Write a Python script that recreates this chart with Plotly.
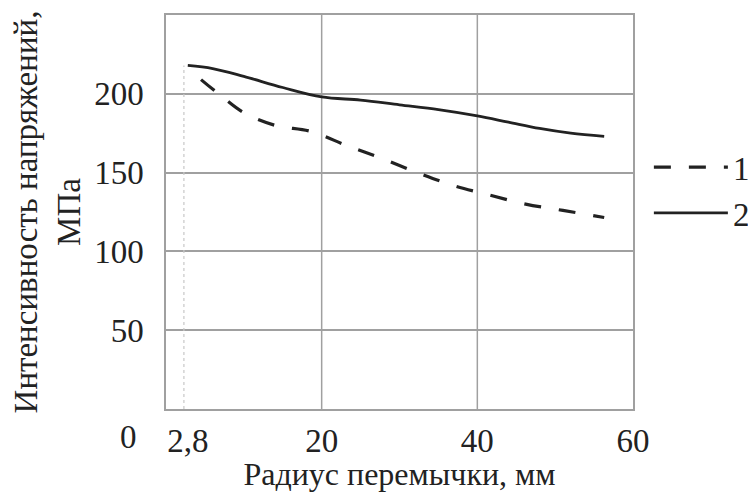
import plotly.graph_objects as go

# Data
radius_1 = [4.5, 7, 10, 14, 18.7, 23.3, 27.7, 32.3, 36.8, 41.4, 46.2, 51, 56.3]
stress_1 = [209, 199, 188, 180, 176, 167, 159, 150, 142, 136, 130, 126, 121.5]
radius_2 = [2.8, 6, 10, 15, 20, 25, 30, 35, 40, 44, 48, 52, 56.3]
stress_2 = [218, 216, 211, 204, 198, 196, 193, 190, 186, 182, 178, 175, 173]
x_tickvals = [2.8, 20, 40, 60]
x_ticktext = ["2,8", "20", "40", "60"]
x_grid = [20, 40]
y_tickvals = [50, 100, 150, 200]
series_names = ["1", "2"]

FONT = "Liberation Serif"
GRID = "#a0a0a0"
FS = 33

fig = go.Figure()
fig.add_trace(go.Scatter(
    x=[radius_2[0] - 0.5, radius_2[0] - 0.5], y=[0, stress_2[0]], mode="lines",
    line=dict(color="#c8c8c8", width=1.2, dash="dot"), showlegend=False, hoverinfo="skip"))
fig.add_trace(go.Scatter(
    x=radius_1, y=stress_1, mode="lines", name=series_names[0],
    line=dict(color="#222222", width=3.2, dash="17px,18px", shape="spline")))
fig.add_trace(go.Scatter(
    x=radius_2, y=stress_2, mode="lines", name=series_names[1],
    line=dict(color="#222222", width=2.8, shape="spline")))

for gx in x_grid:
    fig.add_vline(x=gx, line=dict(color=GRID, width=1.5), layer="below")

fig.add_annotation(x=0, y=0, xref="x", yref="y", text="0", showarrow=False,
                   xshift=-38, yshift=-28, font=dict(family=FONT, size=FS, color="#222"))

# the page body has an 8px margin, so the figure is drawn 8px in from the top-left
fig.update_layout(
    width=748, height=484,
    margin=dict(l=158, r=123, t=7, b=83, autoexpand=False),
    paper_bgcolor="white", plot_bgcolor="white",
    font=dict(family=FONT, size=FS, color="#222222"),
    xaxis=dict(range=[0, 60], tickvals=x_tickvals, ticktext=x_ticktext, automargin=False,
               showgrid=False, zeroline=False, showline=True, mirror=True,
               linecolor=GRID, linewidth=1.5, ticks="", ticklabelstandoff=2,
               title=dict(text="Радиус перемычки, мм", standoff=3, font=dict(size=32))),
    yaxis=dict(range=[0, 250], tickvals=y_tickvals, showgrid=True, gridcolor=GRID,
               gridwidth=1.5, zeroline=False, showline=True, mirror=True, automargin=False,
               linecolor=GRID, linewidth=1.5, ticks="", ticklabelstandoff=14,
               title=dict(text="Интенсивность напряжений,<br>МПа", standoff=10,
                          font=dict(size=33))),
    legend=dict(x=1.034, y=0.685, xanchor="left", yanchor="top",
                bgcolor="rgba(0,0,0,0)", font=dict(size=FS), itemwidth=74,
                tracegroupgap=0),
    showlegend=True,
)

fig.write_html("out.html")
